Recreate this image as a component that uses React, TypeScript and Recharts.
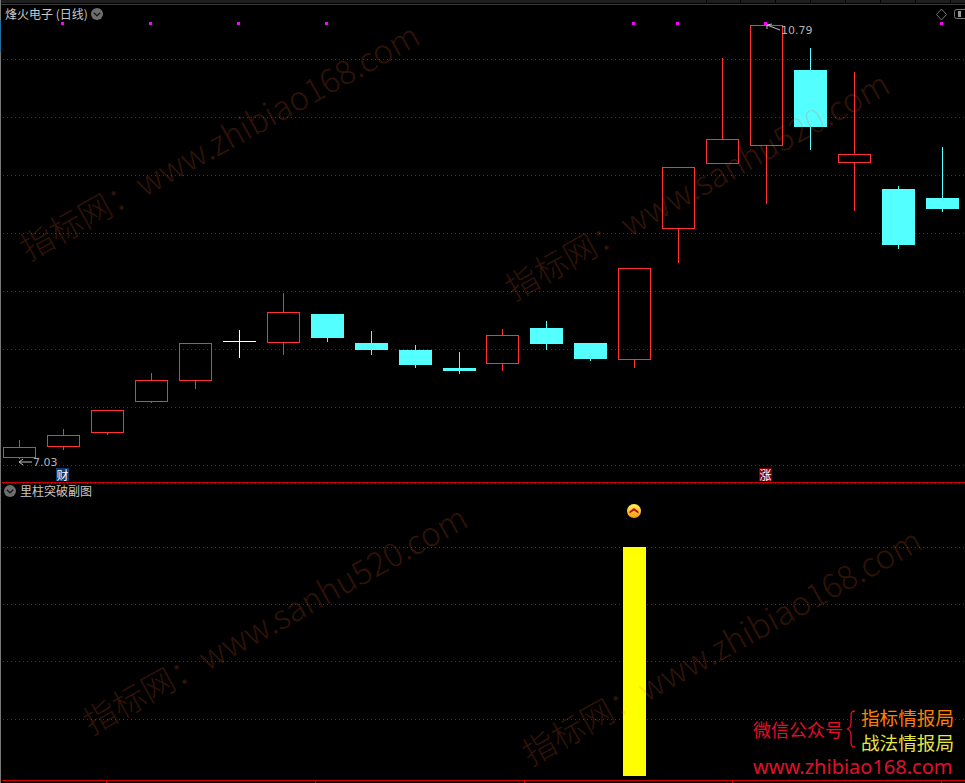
// 烽火电子 日线 — 主图 K 线 + 副图量柱

import React from 'react';
import {
  ComposedChart, Bar, Line, XAxis, YAxis, CartesianGrid, Cell,
} from 'recharts';

// ── 数据 ──

const DAYS = [
  'd01', 'd02', 'd03', 'd04', 'd05', 'd06', 'd07', 'd08', 'd09', 'd10', 'd11',
  'd12', 'd13', 'd14', 'd15', 'd16', 'd17', 'd18', 'd19', 'd20', 'd21', 'd22',
];

const OPENS = [
  7.039, 7.134, 7.255, 7.524, 7.706, 8.052, 8.035, 8.286, 8.035, 7.974, 7.818,
  7.853, 8.165, 8.035, 7.888, 9.023, 9.586, 9.742, 10.400, 9.595, 9.369, 9.291,
];
const CLOSES = [
  7.134, 7.238, 7.455, 7.714, 8.035, 8.052, 8.304, 8.078, 7.974, 7.844, 7.792,
  8.104, 8.026, 7.896, 8.685, 9.560, 9.802, 10.790, 9.906, 9.673, 8.884, 9.196,
];
const HIGHS = [
  7.195, 7.290, 7.455, 7.775, 8.035, 8.148, 8.468, 8.286, 8.139, 8.018, 7.957,
  8.156, 8.226, 8.035, 8.685, 9.560, 10.504, 10.790, 10.591, 10.383, 9.395, 9.733,
];
const LOWS = [
  7.030, 7.108, 7.238, 7.515, 7.636, 7.905, 7.931, 8.044, 7.931, 7.818, 7.766,
  7.792, 7.974, 7.879, 7.818, 8.728, 9.586, 9.239, 9.707, 9.179, 8.849, 9.170,
];
const SIGNAL_DAYS = [1, 3, 5, 7, 14, 15, 17, 21];
const SIGNAL_PRICE = 10.803;

const PRICE_DOMAIN = [6.831, 11.007];
const PRICE_TICKS = [6.978, 7.481, 7.983, 8.486, 8.988, 9.491, 9.993, 10.496];

const VOLUME_BARS = [0, 0, 0, 0, 0, 0, 0, 0, 0, 0, 0, 0, 0, 0, 100, 0, 0, 0, 0, 0, 0, 0];
const BREAK_DAY = 14;
const BREAK_LEVEL = 115.7;
const VOLUME_DOMAIN = [-1.75, 127.95];
const VOLUME_TICKS = [25, 50, 75, 100];

const AXIS_MARKS = [106, 315, 524, 732, 941];
const TOOLBAR_GAPS = [706, 740, 775, 810, 845, 880, 915, 950];

const priceData = DAYS.map((day, i) => ({
  day,
  range: [LOWS[i], HIGHS[i]],
  open: OPENS[i],
  close: CLOSES[i],
  high: HIGHS[i],
  low: LOWS[i],
  signal: SIGNAL_DAYS.includes(i) ? SIGNAL_PRICE : null,
}));

const volumeData = DAYS.map((day, i) => ({
  day,
  volume: VOLUME_BARS[i],
  flag: i === BREAK_DAY ? BREAK_LEVEL : null,
}));

// ── 样式 ──

const RED = '#ff3232';
const CYAN = '#54ffff';
const GRID = '#7c1c1c';
const FRAME = '#cc0000';
const MARGIN = { top: 0, right: 0.075, bottom: 0, left: -1.975 };
const CJK = '"Noto Sans CJK SC", sans-serif';
const MONO = '"DejaVu Sans", sans-serif';

// ── K 线 ──

function Candle(props: any): React.JSX.Element {
  const { x, y, width, height, payload } = props;
  const { open, close, high, low } = payload;
  const k = height / (high - low);
  const cx = Math.floor(x + width / 2) + 0.5;
  const yHigh = Math.round(y);
  const yLow = Math.round(y + height);
  const yOpen = Math.round(y + (high - open) * k);
  const yClose = Math.round(y + (high - close) * k);
  const top = Math.min(yOpen, yClose);
  const bottom = Math.max(yOpen, yClose);

  if (open === close) {
    return (
      <g shapeRendering="crispEdges">
        <line x1={cx} x2={cx} y1={yHigh} y2={yLow} stroke="#ffffff" />
        <line x1={cx - 16.5} x2={cx + 16.5} y1={top + 0.5} y2={top + 0.5} stroke="#ffffff" />
      </g>
    );
  }
  if (close > open) {
    return (
      <g shapeRendering="crispEdges">
        <line x1={cx} x2={cx} y1={yHigh} y2={top} stroke={RED} />
        <line x1={cx} x2={cx} y1={bottom - 1} y2={yLow} stroke={RED} />
        <rect x={cx - 16} y={top + 0.5} width={32} height={bottom - top - 1} fill="none" stroke={RED} />
      </g>
    );
  }
  return (
    <g shapeRendering="crispEdges">
      <line x1={cx} x2={cx} y1={yHigh} y2={yLow} stroke={CYAN} />
      <rect x={cx - 16.5} y={top} width={33} height={bottom - top} fill={CYAN} />
    </g>
  );
}

function SignalDot(props: any): React.JSX.Element | null {
  const { cx, cy, payload, index } = props;
  if (payload.signal === null) return null;
  return (
    <rect
      key={index}
      x={Math.floor(cx - 1.5) - 1}
      y={Math.floor(cy) - 1}
      width={3}
      height={3}
      fill="#ff00ff"
      shapeRendering="crispEdges"
    />
  );
}

function BreakDot(props: any): React.JSX.Element | null {
  const { payload, index } = props;
  if (payload.flag === null) return null;
  const cx = props.cx - 1.3;
  const cy = props.cy;
  return (
    <g key={index}>
      <circle cx={cx} cy={cy} r={7} fill="url(#breakFill)" />
      <path
        d={`M${cx - 4.5} ${cy + 0.5} L${cx} ${cy - 3} L${cx + 4.5} ${cy + 0.5} L${cx + 4.5} ${cy + 2.5} L${cx} ${cy - 0.5} L${cx - 4.5} ${cy + 2.5} Z`}
        fill="#c00a0a"
      />
    </g>
  );
}

// 虚线网格从 x=3 开始，到右边缘
function gridLine(props: any): React.JSX.Element {
  return (
    <line
      key={props.key ?? props.y1}
      x1={3}
      x2={965}
      y1={Math.round(props.y1) + 0.5}
      y2={Math.round(props.y1) + 0.5}
      stroke={GRID}
      strokeDasharray="1 3"
      shapeRendering="crispEdges"
    />
  );
}

// ── 文字 ──

function Watermark({ text, x, y }: { readonly text: string; readonly x: number; readonly y: number }): React.JSX.Element {
  return (
    <div
      style={{
        position: 'absolute',
        left: x,
        top: y,
        fontFamily: CJK,
        fontSize: 33,
        fontWeight: 300,
        lineHeight: 1,
        color: 'rgba(255, 100, 44, 0.2)',
        whiteSpace: 'nowrap',
        transform: 'rotate(-29deg)',
        transformOrigin: '0 100%',
        pointerEvents: 'none',
      }}
    >
      {text}
    </div>
  );
}

function Label({ x, y, size = 12, color = '#c8c8c8', font = CJK, text }: {
  readonly x: number; readonly y: number; readonly size?: number;
  readonly color?: string; readonly font?: string; readonly text: string;
}): React.JSX.Element {
  return (
    <div
      style={{
        position: 'absolute',
        left: x,
        top: y - size / 2,
        fontFamily: font,
        fontSize: size,
        lineHeight: `${size}px`,
        color,
        whiteSpace: 'nowrap',
      }}
    >
      {text}
    </div>
  );
}

function TitleIcon({ x, y }: { readonly x: number; readonly y: number }): React.JSX.Element {
  return (
    <svg style={{ position: 'absolute', left: x - 7, top: y - 7 }} width={14} height={14}>
      <circle cx={7} cy={7} r={6} fill="#6e6e6e" />
      <path d="M3.8 5.8 L7 8.8 L10.2 5.8" fill="none" stroke="#1a1a1a" strokeWidth={1.3} />
    </svg>
  );
}

function Tag({ x, y, bg, text }: { readonly x: number; readonly y: number; readonly bg: string; readonly text: string }): React.JSX.Element {
  return (
    <div
      style={{
        position: 'absolute',
        left: x,
        top: y,
        width: 13,
        height: 13,
        background: bg,
        color: '#ffffff',
        fontFamily: CJK,
        fontSize: 12,
        lineHeight: '13px',
        textAlign: 'center',
      }}
    >
      {text}
    </div>
  );
}

// ── 主组件 ──

export default function App(): React.JSX.Element {
  return (
    <div
      style={{
        position: 'absolute',
        left: 0,
        top: 0,
        width: 965,
        height: 783,
        background: '#000000',
        overflow: 'hidden',
      }}
    >
      {/* 主图 */}
      <div style={{ position: 'absolute', left: 0, top: 0 }}>
        <ComposedChart width={965} height={482} data={priceData} margin={MARGIN} barCategoryGap={0}>
          <CartesianGrid vertical={false} horizontal={gridLine} />
          <XAxis dataKey="day" hide />
          <YAxis hide domain={PRICE_DOMAIN} ticks={PRICE_TICKS} type="number" allowDataOverflow />
          <Bar dataKey="range" barSize={33} shape={<Candle />} isAnimationActive={false} />
          <Line dataKey="signal" stroke="none" dot={<SignalDot />} activeDot={false} isAnimationActive={false} />
        </ComposedChart>
      </div>

      {/* 副图 */}
      <div style={{ position: 'absolute', left: 0, top: 483 }}>
        <ComposedChart width={965} height={297} data={volumeData} margin={MARGIN} barCategoryGap={0}>
          <defs>
            <linearGradient id="breakFill" x1="0" y1="0" x2="0" y2="1">
              <stop offset="0%" stopColor="#fff25a" />
              <stop offset="100%" stopColor="#f79a12" />
            </linearGradient>
          </defs>
          <CartesianGrid vertical={false} horizontal={gridLine} />
          <XAxis dataKey="day" hide />
          <YAxis hide domain={VOLUME_DOMAIN} ticks={VOLUME_TICKS} type="number" allowDataOverflow />
          <Bar dataKey="volume" barSize={23} shapeRendering="crispEdges" isAnimationActive={false}>
            {volumeData.map((d) => <Cell key={d.day} fill="#ffff00" />)}
          </Bar>
          <Line dataKey="flag" stroke="none" dot={<BreakDot />} activeDot={false} isAnimationActive={false} />
        </ComposedChart>
      </div>

      {/* 边框 */}
      <div style={{ position: 'absolute', left: 0, top: 0, width: 965, height: 3, background: '#1e1e1e' }} />
      {TOOLBAR_GAPS.map((x) => (
        <div key={x} style={{ position: 'absolute', left: x, top: 0, width: 1, height: 3, background: '#000000' }} />
      ))}
      <div style={{ position: 'absolute', left: 0, top: 4, width: 965, height: 1, background: '#3a3a3a' }} />
      <div style={{ position: 'absolute', left: 0, top: 0, width: 1, height: 783, background: '#777777' }} />
      <div style={{ position: 'absolute', left: 0, top: 20, width: 1, height: 32, background: '#1f6fa0' }} />
      <div style={{ position: 'absolute', left: 2, top: 482, width: 963, height: 1, background: FRAME }} />
      <div style={{ position: 'absolute', left: 2, top: 780, width: 963, height: 1, background: FRAME }} />
      {AXIS_MARKS.map((x) => (
        <div key={x} style={{ position: 'absolute', left: x, top: 780, width: 1, height: 3, background: FRAME }} />
      ))}

      {/* 标题 */}
      <Label x={5} y={14} size={12} text="烽火电子 (日线)" />
      <TitleIcon x={97} y={14} />
      <TitleIcon x={10} y={491} />
      <Label x={20} y={491} size={12} text="里柱突破副图" />

      {/* 右上角按钮 */}
      <svg style={{ position: 'absolute', left: 935, top: 6 }} width={30} height={16}>
        <path d="M6.5 3 L11.5 8.5 L6.5 14 L1.5 8.5 Z" fill="none" stroke="#777777" />
        <rect x={19.5} y={3.5} width={14} height={9} rx={2} fill="none" stroke="#777777" />
        <rect x={23} y={5} width={3} height={6} fill="#999999" />
      </svg>

      {/* 最高最低标注 */}
      <svg style={{ position: 'absolute', left: 15, top: 20 }} width={800} height={450}>
        <path d="M4 442 L17 442 M8 439 L4 442 L8 445" fill="none" stroke="#c0c0c0" />
        <path d="M752 5 L765 10 M752 9 L752 5 L757 4" fill="none" stroke="#c0c0c0" />
      </svg>
      <Label x={33} y={462} size={11} color="#b4b4b4" font={MONO} text="7.03" />
      <Label x={781} y={30} size={11} color="#b4b4b4" font={MONO} text="10.79" />
      <Tag x={56} y={468} bg="#0a3c78" text="财" />
      <Tag x={759} y={468} bg="#800000" text="涨" />

      {/* 水印 */}
      <Watermark x={30} y={231} text="指标网：www.zhibiao168.com" />
      <Watermark x={515} y={271} text="指标网：www.sanhu520.com" />
      <Watermark x={93} y={705} text="指标网：www.sanhu520.com" />
      <Watermark x={532} y={736} text="指标网：www.zhibiao168.com" />

      {/* 右下角 */}
      <Label x={753} y={729} size={18} color="#e0102a" text="微信公众号" />
      <svg style={{ position: 'absolute', left: 845, top: 708 }} width={12} height={42}>
        <path
          d="M10 3 C6 3 6 5 6 9 L6 15 C6 18 5 20 2.5 21 C5 22 6 24 6 27 L6 33 C6 37 6 39 10 39"
          fill="none"
          stroke="#e0102a"
          strokeWidth={1.3}
        />
      </svg>
      <Label x={861} y={717} size={18.6} color="#ff8000" text="指标情报局" />
      <Label x={861} y={742} size={18.6} color="#e6e640" text="战法情报局" />
      <Label x={753} y={767} size={20} color="#e0102a" font="'Noto Sans', sans-serif" text="www.zhibiao168.com" />
    </div>
  );
}
